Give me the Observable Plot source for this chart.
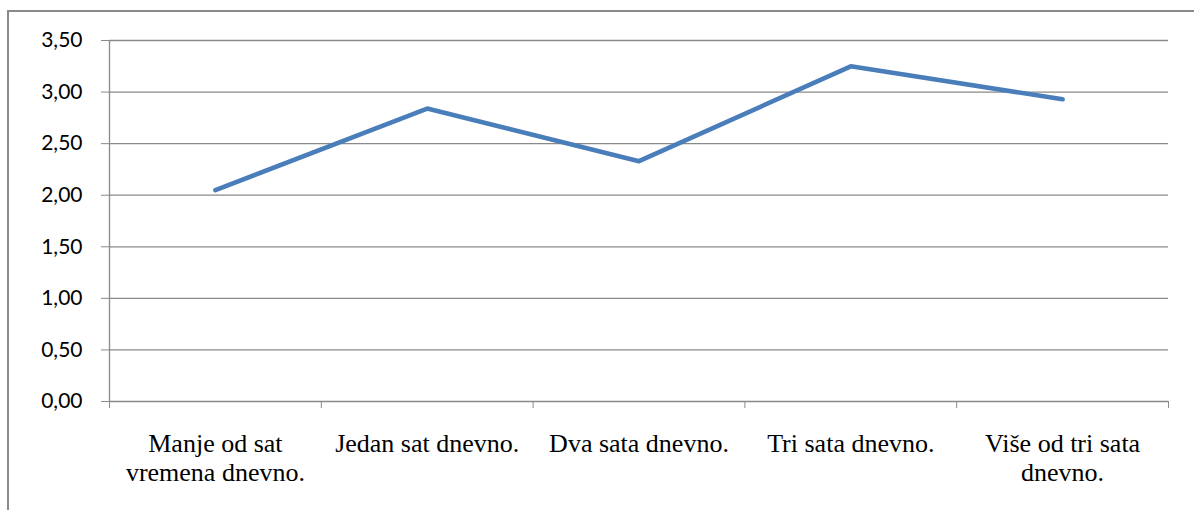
<!DOCTYPE html>
<html>
<head>
<meta charset="utf-8">
<script src="https://cdn.jsdelivr.net/npm/d3@7"></script>
<script src="https://cdn.jsdelivr.net/npm/@observablehq/plot@0.6"></script>
<style>
  html, body { margin: 0; padding: 0; background: #fff; overflow: hidden; }
  #wrap { position: relative; width: 1194px; height: 510px; }
  #frame { position: absolute; left: 7px; top: 10px; width: 1300px; height: 600px;
           border-left: 2px solid #8a8a8a; border-top: 2px solid #8a8a8a; box-sizing: border-box; }
  #chart { position: absolute; left: 0; top: 0; }
</style>
</head>
<body>
<div id="wrap"><div id="frame"></div><div id="chart"></div></div>
<script>
const categories = ["Manje od sat vremena dnevno.", "Jedan sat dnevno.", "Dva sata dnevno.", "Tri sata dnevno.", "Više od tri sata dnevno."];
const tickLabels = ["Manje od sat\nvremena dnevno.", "Jedan sat dnevno.", "Dva sata dnevno.", "Tri sata dnevno.", "Više od tri sata\ndnevno."];
const values = [2.05, 2.84, 2.33, 3.25, 2.93];
const yTicks = [0, 0.5, 1, 1.5, 2, 2.5, 3, 3.5];

const data = categories.map((c, i) => ({category: c, pos: i + 0.5, value: values[i]}));
const boundaries = d3.range(categories.length + 1);
const centers = data.map(d => d.pos);

const grid = "#8a8a8a";
const chart = Plot.plot({
  width: 1194,
  height: 510,
  marginLeft: 109,
  marginRight: 26,
  marginTop: 40,
  marginBottom: 109,
  x: {type: "linear", domain: [0, categories.length]},
  y: {domain: [0, 3.5]},
  style: {background: "transparent", overflow: "visible"},
  marks: [
    Plot.ruleY(yTicks, {stroke: grid, strokeWidth: 1.3}),
    Plot.ruleX([0], {y1: 0, y2: 3.5, stroke: grid, strokeWidth: 1.3}),
    Plot.axisY({ticks: yTicks, tickSize: 8, tickPadding: 19, stroke: grid, fill: "#000",
      tickFormat: d => d.toFixed(2).replace(".", ","), fontSize: 21, label: null}),
    Plot.axisX({ticks: boundaries, tickSize: 7, stroke: grid, tickFormat: () => "", label: null}),
    Plot.axisX({ticks: centers, tickSize: 0, tickPadding: 31, fill: "#000",
      tickFormat: p => tickLabels[Math.round(p - 0.5)], fontSize: 26,
      lineHeight: 1.08, label: null}),
    Plot.line(data, {x: "pos", y: "value", stroke: "#4a7ebb", strokeWidth: 4.6,
      strokeLinecap: "round", strokeLinejoin: "round"})
  ]
});
const svg = d3.select(chart);
svg.selectAll("text").each(function() {
  const t = this.textContent;
  const sel = d3.select(this);
  if (/^\d,\d\d$/.test(t)) {
    sel.attr("font-family", "Lato").attr("font-size", 21)
       .style("font-family", "Lato").style("font-size", "21px");
  } else if (t.length > 0) {
    sel.attr("font-family", "Liberation Serif").attr("font-size", 26)
       .style("font-family", "'Liberation Serif', serif").style("font-size", "26px");
  }
});
document.getElementById("chart").appendChild(chart);
</script>
</body>
</html>
